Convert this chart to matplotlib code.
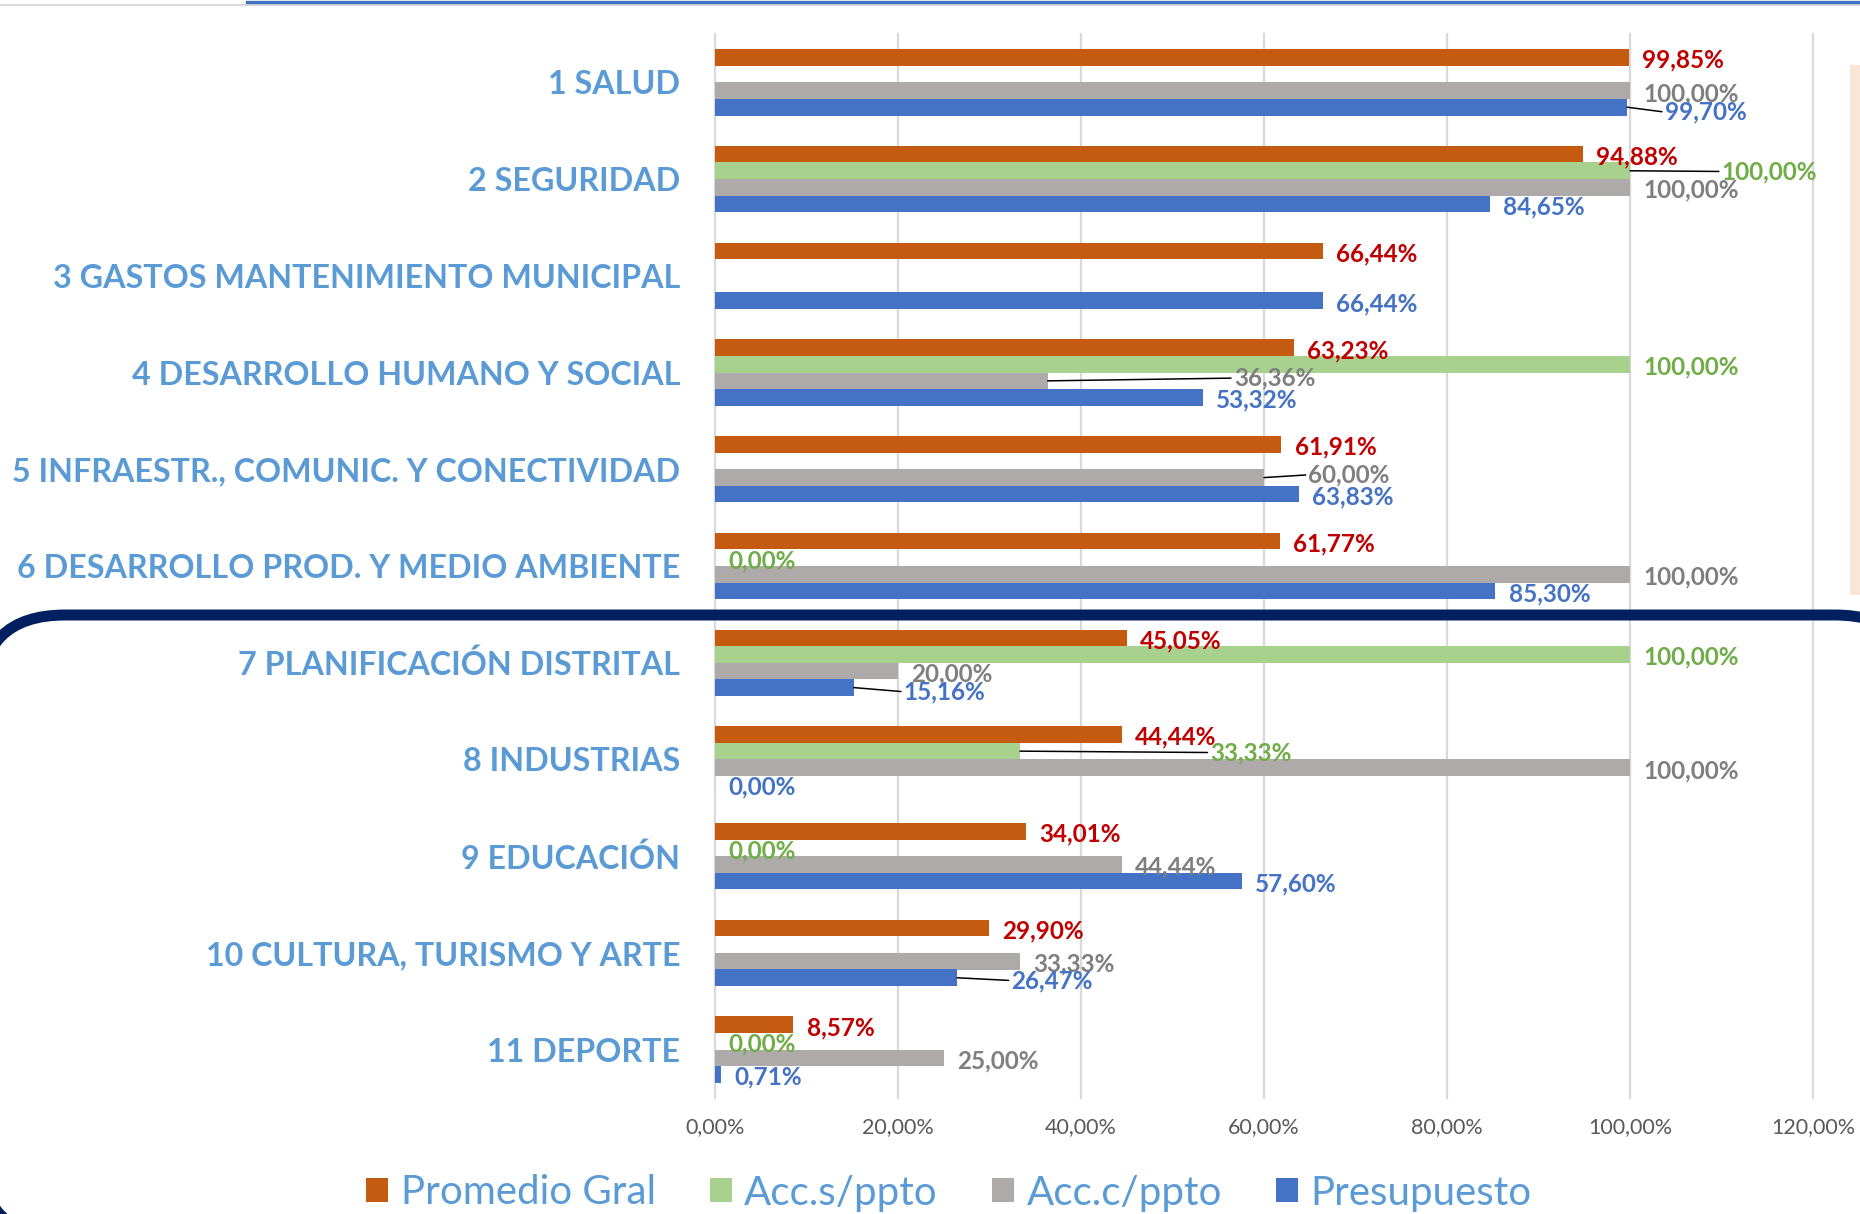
import numpy as np
import matplotlib
matplotlib.use('Agg')
from matplotlib import pyplot as plt
from matplotlib.patches import Patch, Rectangle, FancyBboxPatch
from matplotlib.lines import Line2D
from matplotlib.transforms import IdentityTransform

nan = np.nan

categories = ['1 SALUD', '2 SEGURIDAD', '3 GASTOS MANTENIMIENTO MUNICIPAL',
              '4 DESARROLLO HUMANO Y SOCIAL', '5 INFRAESTR., COMUNIC. Y CONECTIVIDAD',
              '6 DESARROLLO PROD. Y MEDIO AMBIENTE', '7 PLANIFICACIÓN DISTRITAL',
              '8 INDUSTRIAS', '9 EDUCACIÓN', '10 CULTURA, TURISMO Y ARTE', '11 DEPORTE']
promedio_gral = [99.85, 94.88, 66.44, 63.23, 61.91, 61.77, 45.05, 44.44, 34.01, 29.90, 8.57]
acc_s_ppto = [nan, 100.00, nan, 100.00, nan, 0.00, 100.00, 33.33, 0.00, nan, 0.00]
acc_c_ppto = [100.00, 100.00, nan, 36.36, 60.00, 100.00, 20.00, 100.00, 44.44, 33.33, 25.00]
presupuesto = [99.70, 84.65, 66.44, 53.32, 63.83, 85.30, 15.16, 0.00, 57.60, 26.47, 0.71]
series_names = ['Promedio Gral', 'Acc.s/ppto', 'Acc.c/ppto', 'Presupuesto']
x_ticks = [0, 20, 40, 60, 80, 100, 120]

FONT = 'Lato'
W, H = 1860, 1214
plt.rcParams['font.family'] = [FONT, 'DejaVu Sans']

bar_colors = ['#C55A11', '#A9D18E', '#AEAAAA', '#4472C4']
label_colors = ['#C00000', '#70AD47', '#7F7F7F', '#4472C4']
offsets = [-0.257, -0.086, 0.086, 0.257]
bar_h = 0.172

# labels moved by hand in the original, (category, series): (dx, dy) in points
moved = {(0, 3): (27, -3.5), (1, 1): (66, -0.5), (3, 2): (134, 2), (4, 2): (32, 2),
         (6, 3): (36, -3), (7, 1): (137, -1), (9, 3): (39, -2)}

fig = plt.figure(figsize=(W / 100, H / 100), dpi=100)
ax = fig.add_axes([715 / W, 1 - 1098 / H, 1098 / W, 1064 / H])

y = np.arange(len(categories))
all_series = [promedio_gral, acc_s_ppto, acc_c_ppto, presupuesto]
for s, vals in enumerate(all_series):
    vals = np.array(vals, dtype=float)
    ax.barh(y + offsets[s], vals, height=bar_h, color=bar_colors[s], zorder=2)
    for i, v in enumerate(vals):
        if np.isnan(v):
            continue
        txt = f'{v:.2f}'.replace('.', ',') + '%'
        if (i, s) in moved:
            dx, dy = moved[(i, s)]
            ax.annotate(txt, (v, y[i] + offsets[s]), xytext=(dx, dy), textcoords='offset points',
                        ha='left', va='center', fontsize=17.5, fontweight='bold',
                        color=label_colors[s], zorder=4,
                        arrowprops=dict(arrowstyle='-', color='black', lw=1.1,
                                        shrinkA=0, shrinkB=0, relpos=(0, 0.5)))
        else:
            ax.annotate(txt, (v, y[i] + offsets[s]), xytext=(9.5, -2), textcoords='offset points',
                        ha='left', va='center', fontsize=17.5, fontweight='bold',
                        color=label_colors[s], zorder=4)

ax.set_xlim(0, 120)
ax.set_ylim(len(categories) - 0.5, -0.5)
ax.set_xticks(x_ticks)
ax.set_xticklabels([f'{t:.2f}'.replace('.', ',') + '%' for t in x_ticks])
ax.set_yticks(y)
ax.set_yticklabels(categories)
ax.tick_params(axis='x', length=0, pad=14, labelsize=15.5, labelcolor='#595959')
ax.tick_params(axis='y', length=0, pad=25, labelsize=23.2, labelcolor='#5B9BD5')
for lab in ax.get_yticklabels():
    lab.set_fontweight('bold')
for sp in ax.spines.values():
    sp.set_visible(False)
ax.grid(axis='x', color='#D9D9D9', lw=1.6, zorder=0)
ax.set_axisbelow(True)
for gl in ax.get_xgridlines():
    gl.set_clip_on(False)

handles = [Patch(facecolor=c) for c in bar_colors]
fig.legend(handles, series_names, loc='center', bbox_to_anchor=(949 / W, 1 - 1193 / H),
           ncol=4, frameon=False, fontsize=29, handlelength=0.55, handleheight=0.55,
           handletextpad=0.3, columnspacing=1.35, labelcolor='#5B9BD5', borderaxespad=0)

# decoration of the slide around the chart (pixel coordinates)
fig.add_artist(Line2D([0, W], [H - 4.5, H - 4.5], transform=IdentityTransform(),
                      color='#D9D9D9', lw=1.6))
fig.add_artist(Line2D([247, W], [H - 1.5, H - 1.5], transform=IdentityTransform(),
                      color='#4472C4', lw=2.4))
fig.add_artist(Rectangle((1850, H - 595), 12, 530, transform=IdentityTransform(),
                         facecolor='#FBE5D6', edgecolor='none'))
# almost transparent face keeps Agg from clipping the stroke onto the canvas edge
fig.add_artist(FancyBboxPatch((-20, -23), 1940, H - 615 + 23,
                              boxstyle='round,pad=0,rounding_size=85',
                              transform=IdentityTransform(), facecolor=(1, 1, 1, 0.004),
                              edgecolor='#002060', lw=7.9, zorder=10))

fig.savefig('out.png', dpi=100)
